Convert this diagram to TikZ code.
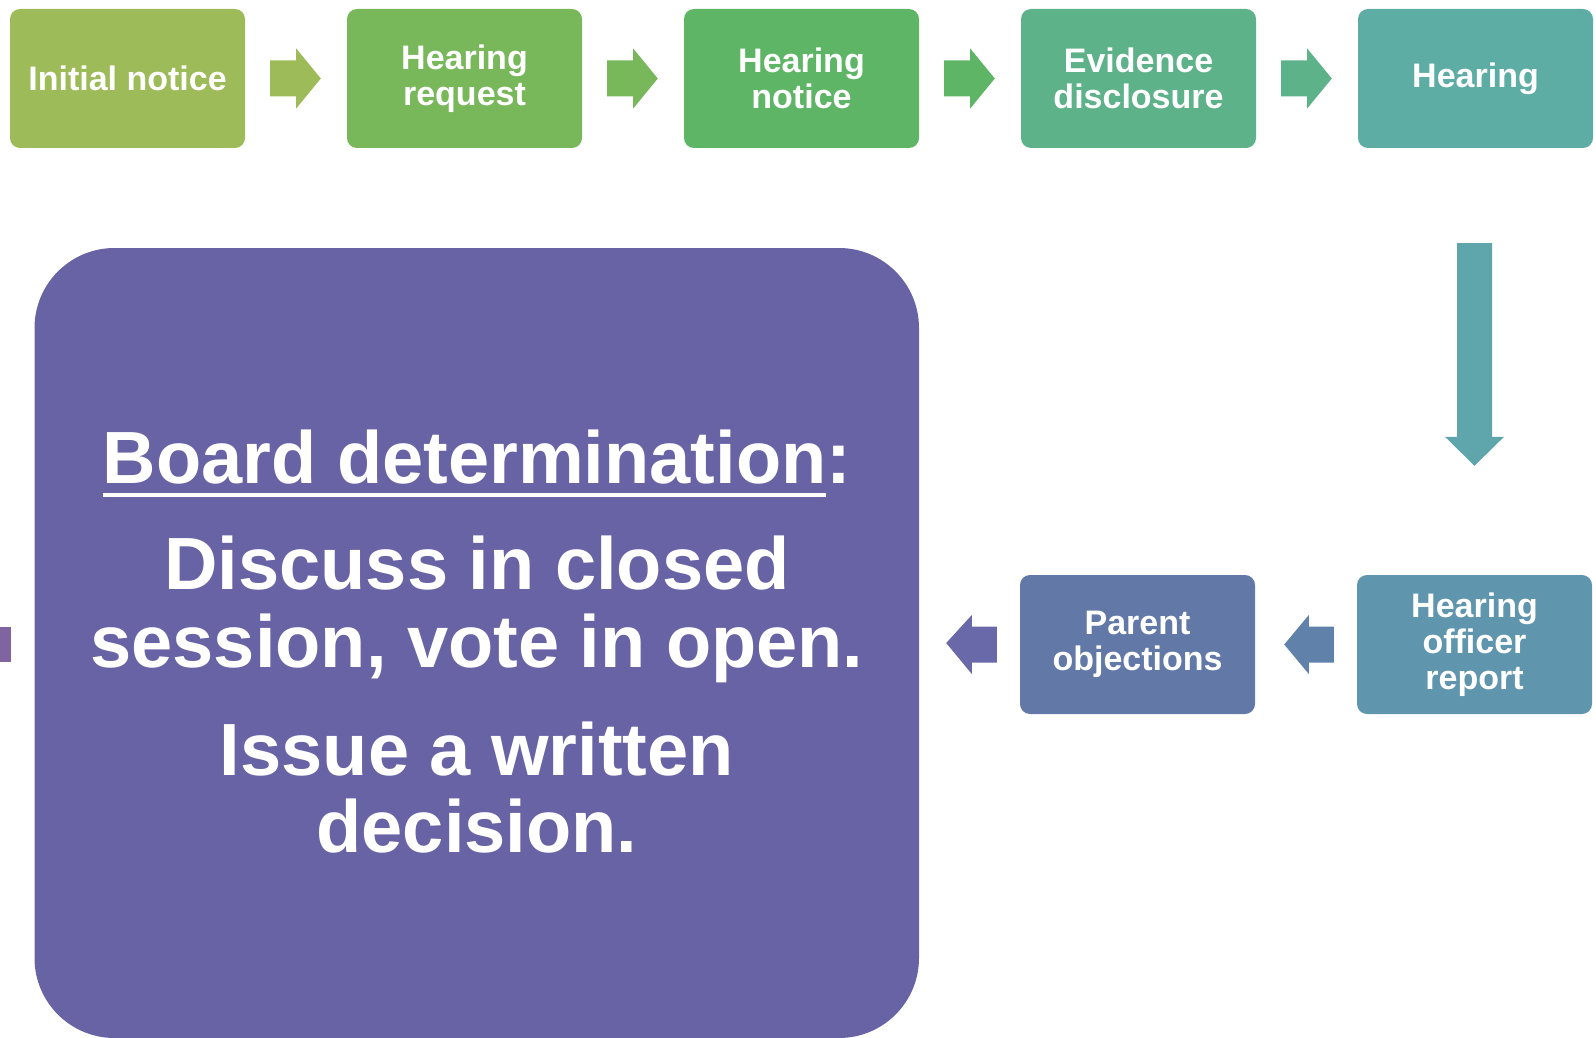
\documentclass[tikz,border=0pt]{standalone}
\usepackage{fontspec}
\setmainfont{Liberation Sans}
\usetikzlibrary{calc}
\definecolor{c1}{HTML}{9DBB59}
\definecolor{c2}{HTML}{78B85B}
\definecolor{c3}{HTML}{5EB565}
\definecolor{c4}{HTML}{5EB28A}
\definecolor{c5}{HTML}{5EADA5}
\definecolor{cdown}{HTML}{5FA5AC}
\definecolor{chor}{HTML}{6096AD}
\definecolor{carrtwo}{HTML}{6082AA}
\definecolor{cpo}{HTML}{6279A8}
\definecolor{carrone}{HTML}{6969AA}
\definecolor{cbig}{HTML}{6863A5}
\definecolor{cbar}{HTML}{8064A0}
\newcommand{\ulbox}[1]{\setbox0\hbox{#1}\rlap{\rule[-13.75pt]{\wd0}{3.5pt}}\box0}
\begin{document}
\begin{tikzpicture}[x=1pt,y=-1pt,
  box/.style={rounded corners=10pt, minimum width=235pt, minimum height=139pt, inner sep=0pt,
    align=center, text=white, font=\fontsize{34}{36}\selectfont\bfseries},
  bigtext/.style={text=white, font=\fontsize{74}{78}\selectfont\bfseries, anchor=base, inner sep=0pt}]
\useasboundingbox (0,0) rectangle (1596,1038);
% top row
\node[box, fill=c1] (b1) at (127.5,78.5) {Initial notice};
\node[box, fill=c2] (b2) at (464.5,78.5) {Hearing\\request};
\node[box, fill=c3] (b3) at (801.5,78.5) {Hearing\\notice};
\node[box, fill=c4] (b4) at (1138.5,78.5) {Evidence\\disclosure};
\node[box, fill=c5] (b5) at (1475.5,78.5) {Hearing};
% bottom row
\node[box, fill=chor] (hor) at (1474.5,644.5) {Hearing\\officer\\report};
\node[box, fill=cpo] (po) at (1137.5,644.5) {Parent\\objections};
% left bar fragment
\fill[cbar] (0,627) rectangle (10.7,662);
% big box
\node[fill=cbig, rounded corners=80pt, minimum width=884.5pt, minimum height=790pt, inner sep=0pt] (board) at (476.75,643) {};
\node[bigtext] (t1) at (477,483) {\ulbox{Board determination}:};
\node[bigtext] (t2) at (477,589) {Discuss in closed};
\node[bigtext] (t3) at (477,667) {session, vote in open.};
\node[bigtext] (t4) at (477,775) {Issue a written};
\node[bigtext] (t5) at (477,852) {decision.};
% top arrows
\foreach \s/\t/\c in {b1/b2/c1,b2/b3/c2,b3/b4/c3,b4/b5/c4}{
  \fill[\c] ($(\s.east)+(25,-18)$) -- ($(\s.east)+(51,-18)$) -- ($(\s.east)+(51,-30)$)
    -- ($(\t.west)+(-26,0)$) -- ($(\s.east)+(51,30)$) -- ($(\s.east)+(51,18)$)
    -- ($(\s.east)+(25,18)$) -- cycle;
}
% bottom arrows
\foreach \s/\t/\c/\o in {hor/po/carrtwo/29,po/board/carrone/27}{
  \fill[\c] ($(\s.west)+(-23,-18)$) -- ($(\s.west)+(-48,-18)$) -- ($(\s.west)+(-48,-29.5)$)
    -- ($(\t.east)+(\o,0)$) -- ($(\s.west)+(-48,29.5)$) -- ($(\s.west)+(-48,18)$)
    -- ($(\s.west)+(-23,18)$) -- cycle;
}
% down arrow
\fill[cdown] ($(b5.south -| hor.north)+(-17.5,95)$) -- ($(b5.south -| hor.north)+(17.5,95)$)
  -- ($(hor.north)+(17.5,-138)$) -- ($(hor.north)+(29.5,-138)$) -- ($(hor.north)+(0,-109)$)
  -- ($(hor.north)+(-29.5,-138)$) -- ($(hor.north)+(-17.5,-138)$) -- cycle;
\end{tikzpicture}
\end{document}
